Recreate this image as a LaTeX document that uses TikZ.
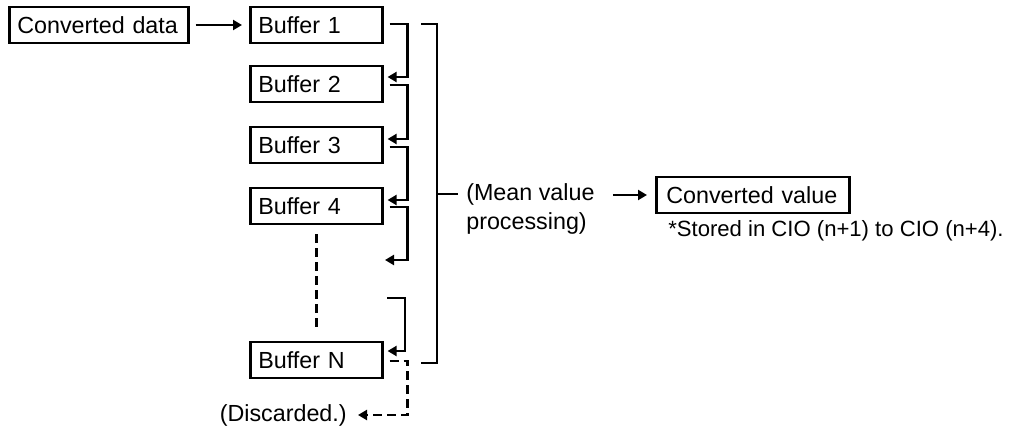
\documentclass[tikz,border=0pt]{standalone}
\usepackage{fontspec}
\setmainfont{Liberation Sans}
\usetikzlibrary{arrows.meta,calc}
\begin{document}
\begin{tikzpicture}[x=1pt,y=-1pt,
  font=\fontsize{23.3}{29}\selectfont,
  line width=2.6pt,
  box/.style={draw, line width=2.6pt, minimum height=36pt, inner ysep=0pt, inner xsep=8pt, align=left, anchor=west},
  buf/.style={box, text width=116pt},
  arr/.style={-{Triangle[length=9pt,width=10pt]}},
  dsh/.style={dash pattern=on 9pt off 5pt},
  txt/.style={inner sep=0pt, anchor=west, align=left}
]
\useasboundingbox (0,0) rectangle (1010,429);
% nodes
\node[box, text width=163pt] (cd) at (8,25) {Converted data};
\node[buf] (b1) at (249,25) {Buffer 1};
\node[buf] (b2) at (249,84) {Buffer 2};
\node[buf] (b3) at (249,145) {Buffer 3};
\node[buf] (b4) at (249,206) {Buffer 4};
\node[buf] (bn) at (249,360) {Buffer N};
\node[box, text width=173pt, inner xsep=10pt] (cv) at (655,195) {Converted value};
\node[txt] (mean) at (465,208.5) {(Mean value\\processing)};
\node[txt, font=\fontsize{22.1}{27}\selectfont] (store) at (667,231) {*Stored in CIO (n+1) to CIO (n+4).};
\node[txt, anchor=east] (disc) at (348,415) {(Discarded.)};
% free ends
\coordinate (ph) at (385,260);
\coordinate (pre) at (387,298);
\coordinate (brT) at (421,24);
\coordinate (brB) at (421,363);
\coordinate (brM) at (437,194);
% connectors
\draw[arr] ($(cd.east)+(6,0)$) -- ($(b1.west)+(-7,0)$);
\draw[arr] ($(b1.east)+(6,-1)$) -- ++(18,0) |- ($(b2.east)+(4,-7)$);
\draw[arr] ($(b2.east)+(6,1)$) -- ++(18,0) |- ($(b3.east)+(4,-6)$);
\draw[arr] ($(b3.east)+(6,2)$) -- ++(18,0) |- ($(b4.east)+(4,-6)$);
\draw[arr] ($(b4.east)+(6,1)$) -- ++(18,0) |- (ph);
\draw[arr] (pre) -- ++(18,0) |- ($(bn.east)+(4,-9)$);
\draw[arr, dsh] ($(bn.east)+(6,1)$) -- ++(18,0) |- ($(disc.east)+(10,0)$);
\draw[dsh] ($(b4.south)+(0,9)$) -- ($(bn.north)+(0,-9)$);
% bracket
\draw (brT) -- ++(16,0) |- (brB);
\draw (brM) -- ++(21,0);
\draw[arr] ($(mean.east |- cv.west)+(17,0)$) -- ($(cv.west)+(-8,0)$);
\end{tikzpicture}
\end{document}
